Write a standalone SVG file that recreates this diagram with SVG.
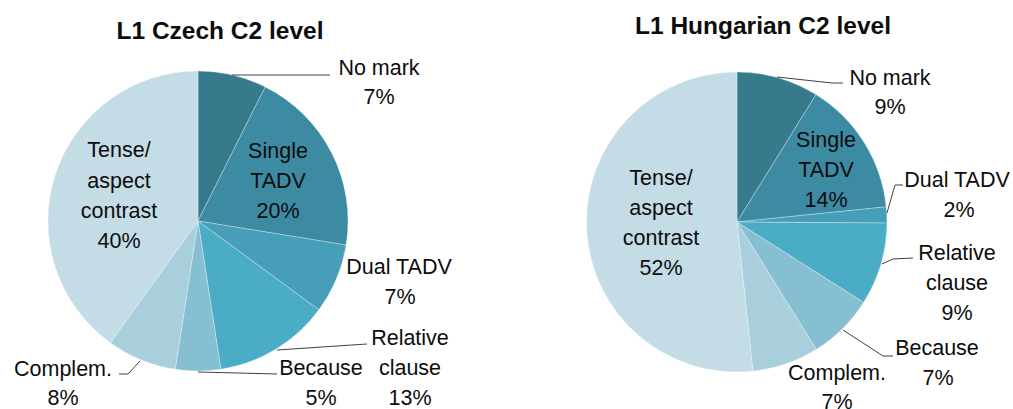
<svg xmlns="http://www.w3.org/2000/svg" width="1013" height="409" viewBox="0 0 1013 409">
<style>
.bg{fill:#fff}
.s{stroke:#fff;stroke-width:0.6;stroke-opacity:0.5}
.nm{fill:#367A8C}.st{fill:#3D8BA3}.du{fill:#469EB8}.rc{fill:#4BACC6}.be{fill:#86BFD2}.co{fill:#A9CEDC}.te{fill:#C3DCE6}
.t{font-family:"Liberation Sans",Arial,sans-serif;font-weight:bold;font-size:24.5px;fill:#0d0d0d;text-anchor:middle}
.l{font-family:"Liberation Sans",Arial,sans-serif;font-size:21.5px;fill:#0d0d0d;text-anchor:middle}
.ld{fill:none;stroke:#404040;stroke-width:1}
</style>
<rect class="bg" x="0" y="0" width="1013" height="409"/>
<g id="czech-chart">
<text class="t" x="220" y="39">L1 Czech C2 level</text>
<g id="cz-nomark"><path class="nm s" d="M198,221 L198,71 A150,150 0 0 1 265.2,86.9 Z"/></g>
<g id="cz-single"><path class="st s" d="M198,221 L265.2,86.9 A150,150 0 0 1 346.1,245 Z"/>
<text class="l" x="278" y="158">Single</text><text class="l" x="278" y="188">TADV</text><text class="l" x="278" y="218">20%</text></g>
<g id="cz-dual"><path class="du s" d="M198,221 L346.1,245 A150,150 0 0 1 318.9,309.8 Z"/></g>
<g id="cz-relative"><path class="rc s" d="M198,221 L318.9,309.8 A150,150 0 0 1 220.9,369.2 Z"/></g>
<g id="cz-because"><path class="be s" d="M198,221 L220.9,369.2 A150,150 0 0 1 175.3,369.3 Z"/></g>
<g id="cz-complem"><path class="co s" d="M198,221 L175.3,369.3 A150,150 0 0 1 110.3,342.7 Z"/></g>
<g id="cz-tense"><path class="te s" d="M198,221 L110.3,342.7 A150,150 0 0 1 198,71 Z"/>
<text class="l" x="119" y="157">Tense/</text><text class="l" x="119" y="188">aspect</text><text class="l" x="119" y="218">contrast</text><text class="l" x="119" y="248">40%</text></g>
<g id="cz-labels">
<text class="l" x="379" y="75">No mark</text><text class="l" x="379" y="104">7%</text>
<text class="l" x="399" y="274">Dual TADV</text><text class="l" x="400" y="304">7%</text>
<text class="l" x="410" y="345">Relative</text><text class="l" x="410" y="375">clause</text><text class="l" x="410" y="405">13%</text>
<text class="l" x="321" y="375">Because</text><text class="l" x="321" y="405">5%</text>
<text class="l" x="63" y="376">Complem.</text><text class="l" x="63" y="405">8%</text>
</g>
</g>
<g id="hungarian-chart">
<text class="t" x="763" y="34">L1 Hungarian C2 level</text>
<g id="hu-nomark"><path class="nm s" d="M737,222 L737,72 A150,150 0 0 1 816,94.5 Z"/></g>
<g id="hu-single"><path class="st s" d="M737,222 L816,94.5 A150,150 0 0 1 886.2,206.8 Z"/>
<text class="l" x="826" y="147">Single</text><text class="l" x="826" y="177">TADV</text><text class="l" x="826" y="207">14%</text></g>
<g id="hu-dual"><path class="du s" d="M737,222 L886.2,206.8 A150,150 0 0 1 887,223 Z"/></g>
<g id="hu-relative"><path class="rc s" d="M737,222 L887,223 A150,150 0 0 1 863.6,302.4 Z"/></g>
<g id="hu-because"><path class="be s" d="M737,222 L863.6,302.4 A150,150 0 0 1 816.3,349.4 Z"/></g>
<g id="hu-complem"><path class="co s" d="M737,222 L816.3,349.4 A150,150 0 0 1 752.9,371.1 Z"/></g>
<g id="hu-tense"><path class="te s" d="M737,222 L752.9,371.1 A150,150 0 1 1 737,72 Z"/>
<text class="l" x="661" y="185">Tense/</text><text class="l" x="661" y="215">aspect</text><text class="l" x="661" y="245">contrast</text><text class="l" x="661" y="275">52%</text></g>
<g id="hu-labels">
<text class="l" x="890" y="85">No mark</text><text class="l" x="890" y="114">9%</text>
<text class="l" x="957" y="187">Dual TADV</text><text class="l" x="959" y="217">2%</text>
<text class="l" x="957" y="260">Relative</text><text class="l" x="957" y="290">clause</text><text class="l" x="957" y="320">9%</text>
<text class="l" x="937" y="355">Because</text><text class="l" x="938" y="385">7%</text>
<text class="l" x="837" y="380">Complem.</text><text class="l" x="837" y="409">7%</text>
</g>
</g>
<g id="connectors">
<polyline class="ld" points="232,75 330,75"/>
<polyline class="ld" points="277,350 367,344"/>
<polyline class="ld" points="198,372 277,374"/>
<polyline class="ld" points="140,361 128,374 119,374"/>
<polyline class="ld" points="777,77 832,83 843,83"/>
<polyline class="ld" points="887,213 895,185 903,185"/>
<polyline class="ld" points="882,264 893,259 913,258"/>
<polyline class="ld" points="843,330 883,356 893,356"/>
</g>
</svg>
